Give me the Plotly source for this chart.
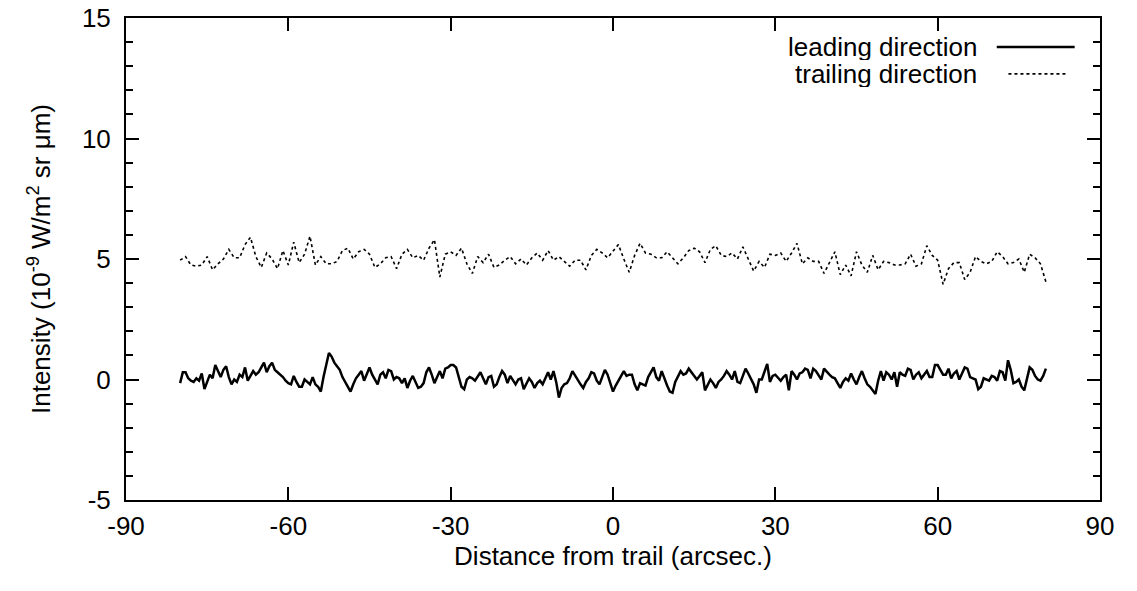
import plotly.graph_objects as go

# Leading direction: samples every 0.5 arcsec from -80 to 80 (rows of 5 arcsec)
leading_start = -80.0
leading_step = 0.5
leading = [
    -0.15, 0.3, 0.3, 0.05, -0.05, -0.1, 0.05, -0.05, 0.25, -0.4,     # -80
    -0.1, 0.2, 0.05, 0.6, 0.35, 0.1, 0.4, 0.55, 0.1, -0.2,           # -75
    0.0, -0.1, 0.2, 0.1, 0.5, -0.05, 0.15, 0.35, 0.2, 0.3,           # -70
    0.5, 0.7, 0.3, 0.55, 0.7, 0.4, 0.3, 0.2, 0.1, -0.05,             # -65
    -0.15, -0.2, 0.15, -0.1, -0.3, -0.3, 0.0, -0.1, -0.2, 0.1,       # -60
    -0.2, -0.3, -0.5, 0.1, 0.55, 1.1, 0.95, 0.7, 0.55, 0.4,          # -55
    0.1, -0.1, -0.25, -0.5, -0.2, 0.05, 0.2, 0.35, -0.05, 0.2,       # -50
    0.5, 0.2, 0.0, -0.2, 0.2, 0.3, 0.05, 0.4, 0.35, 0.0,             # -45
    0.1, 0.05, -0.15, 0.05, -0.35, -0.05, 0.15, -0.1, -0.35, -0.3,   # -40
    -0.15, 0.3, 0.5, 0.2, -0.15, 0.1, 0.35, 0.05, 0.45, 0.5,         # -35
    0.6, 0.6, 0.5, 0.1, -0.3, -0.4, 0.0, 0.1, 0.05, -0.05,           # -30
    0.1, 0.3, 0.05, -0.2, 0.1, 0.15, -0.3, -0.2, 0.1, 0.35,          # -25
    0.2, -0.15, 0.15, 0.0, -0.2, 0.0, 0.05, -0.4, -0.15, 0.05,       # -20
    -0.1, -0.35, -0.15, -0.05, -0.2, 0.05, 0.3, 0.0, 0.35, -0.1,     # -15
    -0.75, -0.35, -0.2, -0.15, 0.05, 0.35, 0.15, -0.05, -0.2, -0.35, # -10
    -0.1, 0.05, 0.3, 0.25, -0.05, -0.2, 0.1, 0.4, 0.2, -0.15,        # -5
    -0.5, -0.25, -0.05, 0.2, 0.35, 0.15, 0.2, 0.2, -0.2, -0.45,      # 0
    -0.15, -0.2, -0.25, 0.1, 0.3, 0.5, 0.1, -0.05, 0.35, 0.0,        # 5
    -0.25, -0.5, -0.55, -0.1, 0.1, 0.35, 0.2, 0.25, 0.45, 0.3,       # 10
    0.2, 0.0, 0.15, 0.3, -0.45, -0.2, 0.0, -0.15, -0.35, -0.1,       # 15
    0.0, 0.15, 0.35, 0.2, 0.0, 0.35, -0.1, -0.15, 0.2, 0.45,         # 20
    0.25, 0.05, -0.2, -0.55, 0.0, 0.0, 0.3, 0.65, -0.1, 0.15,        # 25
    0.2, 0.05, -0.05, 0.1, 0.2, -0.45, 0.35, 0.2, 0.0, 0.25,         # 30
    0.3, 0.45, 0.4, 0.05, 0.45, 0.35, 0.2, 0.0, 0.45, 0.3,           # 35
    0.2, 0.1, 0.05, -0.15, -0.35, -0.1, 0.05, -0.05, 0.25, 0.0,      # 40
    -0.2, 0.1, 0.35, 0.05, -0.2, -0.3, -0.45, -0.6, -0.05, 0.35,     # 45
    -0.05, 0.3, 0.2, 0.0, 0.3, -0.3, 0.3, 0.2, 0.15, 0.45,           # 50
    0.4, 0.0, 0.2, 0.3, 0.05, 0.2, 0.35, 0.1, 0.1, 0.6,              # 55
    0.6, 0.4, 0.2, 0.2, 0.45, 0.05, 0.25, 0.35, 0.0, 0.25,           # 60
    0.5, 0.45, 0.1, 0.05, 0.0, -0.4, -0.3, 0.05, 0.0, -0.05,         # 65
    0.15, 0.1, -0.05, 0.35, 0.3, -0.05, 0.8, 0.4, -0.15, -0.1,       # 70
    0.0, -0.3, -0.45, 0.1, 0.5, 0.4, 0.15, 0.0, -0.05, 0.15,         # 75
    0.45,                                                             # 80
]

# Trailing direction: samples every 1 arcsec from -80 to 80 (rows of 10 arcsec)
trailing_start = -80.0
trailing_step = 1.0
trailing = [
    4.95, 5.1, 4.75, 4.7, 4.75, 5.1, 4.55, 4.8, 5.0, 5.4,      # -80
    5.05, 5.05, 5.6, 5.9, 5.1, 4.65, 5.25, 5.0, 4.6, 5.35,     # -70
    4.75, 5.7, 4.85, 5.2, 5.95, 4.75, 5.1, 4.8, 4.8, 4.9,      # -60
    5.35, 5.45, 5.0, 5.3, 5.4, 5.2, 4.65, 4.8, 5.05, 5.1,      # -50
    4.6, 5.2, 5.4, 5.05, 5.15, 4.95, 5.45, 5.8, 4.25, 5.2,     # -40
    5.3, 5.15, 5.45, 4.8, 4.4, 5.1, 4.85, 5.2, 4.65, 4.75,     # -30
    4.95, 5.1, 4.8, 5.0, 4.75, 5.05, 5.25, 4.95, 5.35, 4.95,   # -20
    5.1, 4.9, 4.7, 4.95, 4.95, 4.55, 5.15, 5.4, 5.25, 5.05,    # -10
    5.35, 5.6, 5.0, 4.45, 5.15, 5.65, 5.25, 5.2, 5.05, 5.05,   # 0
    5.3, 5.05, 4.8, 5.05, 5.35, 5.45, 5.3, 4.85, 5.4, 5.55,    # 10
    5.15, 5.1, 5.25, 5.0, 5.5, 5.0, 4.5, 4.9, 4.65, 5.2,       # 20
    5.15, 5.25, 4.9, 5.25, 5.65, 4.8, 5.05, 4.9, 4.9, 4.4,     # 30
    4.85, 5.3, 4.35, 4.75, 4.3, 5.3, 4.75, 4.45, 5.15, 4.55,   # 40
    4.9, 4.85, 4.75, 4.75, 4.8, 5.2, 4.7, 4.8, 5.55, 5.15,     # 50
    4.95, 3.95, 4.6, 4.85, 4.85, 4.15, 4.45, 5.1, 4.9, 4.8,    # 60
    4.9, 5.3, 5.1, 4.8, 4.85, 5.0, 4.45, 5.2, 5.05, 4.8,       # 70
    4.05,                                                      # 80
]

x_ticks = [-90, -60, -30, 0, 30, 60, 90]
y_ticks = [-5, 0, 5, 10, 15]
series_names = ["leading direction", "trailing direction"]
x_title = "Distance from trail (arcsec.)"
y_title = "Intensity (10<sup>-9</sup> W/m<sup>2</sup> sr \u03bcm)"

leading_x = [leading_start + leading_step * i for i in range(len(leading))]
trailing_x = [trailing_start + trailing_step * i for i in range(len(trailing))]

FONT = "Liberation Sans, Arial, Helvetica, sans-serif"
FS = 26

lead_line = dict(color="black", width=2.5)
trail_line = dict(color="black", width=1.6, dash="3px,3px")

fig = go.Figure()
fig.add_trace(go.Scatter(x=leading_x, y=leading, mode="lines", name=series_names[0],
                         line=lead_line, showlegend=False))
fig.add_trace(go.Scatter(x=trailing_x, y=trailing, mode="lines", name=series_names[1],
                         line=trail_line, showlegend=False))

axis_common = dict(showgrid=False, zeroline=False, showline=True, linecolor="black",
                   linewidth=2, mirror="allticks", ticks="inside", tickcolor="black",
                   tickwidth=1.5, ticklen=13, automargin=False,
                   tickfont=dict(family=FONT, size=FS, color="black"))

fig.update_xaxes(range=[-90, 90], tickvals=x_ticks, ticktext=[str(v) for v in x_ticks],
                 ticklabelstandoff=2,
                 title=dict(text=x_title, font=dict(family=FONT, size=FS, color="black"), standoff=0),
                 **axis_common)
fig.update_yaxes(range=[-5, 15], tickvals=y_ticks, ticktext=[str(v) for v in y_ticks],
                 minor=dict(dtick=1, ticks="inside", ticklen=7, tickcolor="black", tickwidth=1.5, showgrid=False),
                 ticklabelstandoff=8,
                 title=dict(text=y_title, font=dict(family=FONT, size=FS, color="black"), standoff=24),
                 **axis_common)

# gnuplot-style key: text right-aligned, sample line to its right
key_rows = [(series_names[0], lead_line), (series_names[1], trail_line)]
key_y = [0.940, 0.884]
key_x0 = [0.894, 0.906]
key_x1 = [0.974, 0.967]
for i, (name, ln) in enumerate(key_rows):
    fig.add_annotation(xref="paper", yref="paper", x=0.876, y=key_y[i], text=name,
                       showarrow=False, xanchor="right", yanchor="middle", height=26,
                       font=dict(family=FONT, size=FS, color="black"))
    fig.add_shape(type="line", xref="paper", yref="paper", x0=key_x0[i], x1=key_x1[i],
                  y0=key_y[i], y1=key_y[i], line=ln)

fig.update_layout(width=1137, height=591, plot_bgcolor="white", paper_bgcolor="white",
                  margin=dict(l=126, r=37, t=18, b=91), showlegend=False)

fig.write_html("out.html")
